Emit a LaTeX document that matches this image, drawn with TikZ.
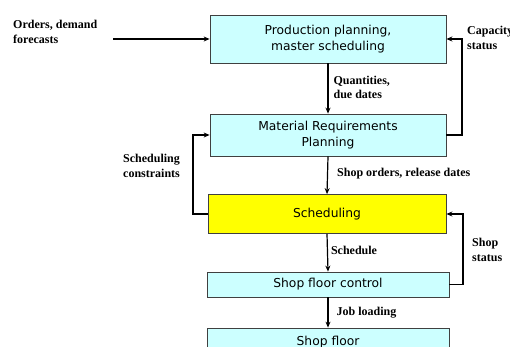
\documentclass[tikz,border=0pt]{standalone}
\usepackage{fontspec}
\setmainfont{Liberation Serif}
\newfontfamily\boxfont{DejaVu Sans}
\usetikzlibrary{arrows.meta}
\definecolor{boxcyan}{HTML}{CCFFFF}
\definecolor{boxyellow}{HTML}{FFFF00}
\definecolor{boxedge}{HTML}{404040}
\tikzset{
  stage/.style={draw=boxedge, line width=0.8pt, fill=boxcyan, inner sep=0pt,
    font=\boxfont\fontsize{12.3}{16}\selectfont, align=center},
  flow/.style={line width=1.2pt, -{Stealth[length=6pt,width=5pt]}},
  lbl/.style={font=\bfseries\fontsize{12}{14.5}\selectfont, align=left, inner sep=0pt}
}
\begin{document}
\begin{tikzpicture}[x=1pt,y=-1pt]
\useasboundingbox (0,0) rectangle (510,347);
\clip (0,0) rectangle (510,347);
\fill[white] (0,0) rectangle (510,347);

% process stages
\node[stage, minimum width=236pt, minimum height=48pt] (pp) at (328,39) {Production planning,\\master scheduling};
\node[stage, minimum width=236pt, minimum height=42pt] (mrp) at (328,135) {Material Requirements\\Planning};
\node[stage, fill=boxyellow, minimum width=238pt, minimum height=39pt] (sch) at (327,214) {Scheduling};
\node[stage, minimum width=242pt, minimum height=25pt] (sfc) at (328,284.5) {Shop floor control};
\node[stage, minimum width=242pt, minimum height=40pt, text depth=14pt] (sf) at (328,348) {Shop floor};

% external input
\node[lbl, anchor=north west] (orders) at (13,20) {Orders, demand\\forecasts};
\coordinate (in) at (113,39);
\draw[flow] (in) -- (pp.west);

% downward flow
\draw[flow] (pp.south) -- node[lbl, right=5pt, pos=0.48] {Quantities,\\due dates} (mrp.north);
\draw[flow] (mrp.south) -- node[lbl, right=9pt, pos=0.45] {Shop orders, release dates} (sch.north);
\draw[flow] (sch.south) -- node[lbl, right=3pt, pos=0.45] {Schedule} (sfc.north);
\draw[flow] (sfc.south) -- node[lbl, right=8pt, pos=0.5] {Job loading} (sf.north);

% feedback loops
\draw[flow] (mrp.east) -- (462,135) |- (pp.east);
\node[lbl, anchor=north west] (cap) at (467,26) {Capacity\\status};

\draw[flow] (sch.west) -- (193,214) |- (mrp.west);
\node[lbl, anchor=north west] (cons) at (123,154) {Scheduling\\constraints};

\draw[flow] (sfc.east) -- (463,284.5) |- (sch.east);
\node[lbl, anchor=north west] (stat) at (472,238) {Shop\\status};
\end{tikzpicture}
\end{document}
